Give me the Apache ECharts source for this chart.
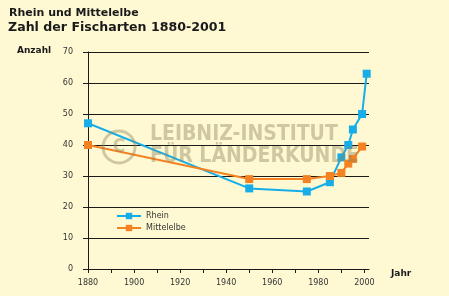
<!DOCTYPE html>
<html><head><meta charset="utf-8">
<script src="https://cdn.jsdelivr.net/npm/echarts@6/dist/echarts.min.js"></script>
<style>html,body{margin:0;padding:0;background:#FEF9D3;}#c{width:449px;height:296px;}</style>
</head><body><div id="c"></div>
<script>
const rheinData = [[1880,47],[1950,26],[1975,25],[1985,28],[1990,36],[1993,40],[1995,45],[1999,50],[2001,63]];
const elbeData = [[1880,40],[1950,29],[1975,29],[1985,30],[1990,31],[1993,34],[1995,35.5],[1999,39.5]];
const xTicks = [1880,1890,1900,1910,1920,1930,1940,1950,1960,1970,1980,1990,2000];
const xLabels = [1880,1900,1920,1940,1960,1980,2000];
const seriesNames = ['Rhein','Mittelelbe'];
const colors = ['#16ADE8','#F58220'];
const ch = echarts.init(document.getElementById('c'));
const font = 'DejaVu Sans';
const wm = 'rgba(140,130,90,0.42)';
const wmFont = 'bold 21px "Liberation Sans Narrow","DejaVu Sans Condensed",sans-serif';
ch.setOption({
  backgroundColor:'#FEF9D3',
  animation:false,
  textStyle:{fontFamily:font},
  grid:{left:88,right:80,top:52,bottom:27,containLabel:false},
  xAxis:{type:'value',min:1880,max:2002,
    axisLine:{lineStyle:{color:'#1a1a1a',width:1}},
    axisTick:{show:true,length:4,customValues:xTicks,lineStyle:{color:'#1a1a1a'}},
    axisLabel:{customValues:xLabels,fontSize:8,color:'#333',margin:10,fontFamily:font,formatter:v=>String(v)},
    splitLine:{show:false}},
  yAxis:{type:'value',min:0,max:70,interval:10,
    axisLine:{show:true,lineStyle:{color:'#1a1a1a',width:1}},
    axisTick:{show:true,length:5,lineStyle:{color:'#1a1a1a'}},
    axisLabel:{fontSize:8,color:'#333',margin:15,fontFamily:font},
    splitLine:{show:true,lineStyle:{color:'#1a1a1a',width:1}}},
  legend:{orient:'vertical',left:111,top:207,itemWidth:24,itemHeight:8,itemGap:4,
    textStyle:{fontSize:8,color:'#333',fontFamily:font},data:seriesNames},
  series:[
    {name:seriesNames[0],type:'line',data:rheinData,symbol:'rect',symbolSize:8,
      itemStyle:{color:colors[0]},lineStyle:{color:colors[0],width:2}},
    {name:seriesNames[1],type:'line',data:elbeData,symbol:'rect',symbolSize:8,
      itemStyle:{color:colors[1]},lineStyle:{color:colors[1],width:2}}
  ],
  graphic:[
    {type:'text',left:9,top:8,style:{text:'Rhein und Mittelelbe',font:'bold 11px "DejaVu Sans"',fill:'#1a1a1a'}},
    {type:'text',left:8,top:21,style:{text:'Zahl der Fischarten 1880-2001',font:'bold 12.6px "DejaVu Sans"',fill:'#1a1a1a'}},
    {type:'text',left:17,top:46,style:{text:'Anzahl',font:'bold 9px "DejaVu Sans"',fill:'#1a1a1a'}},
    {type:'text',left:391,top:269,style:{text:'Jahr',font:'bold 9px "DejaVu Sans"',fill:'#1a1a1a'}},
    {type:'circle',shape:{cx:119,cy:147,r:16},z:100,style:{fill:null,stroke:wm,lineWidth:3}},
    {type:'text',x:119,y:147,z:100,style:{text:'C',font:'bold 19px "Liberation Sans Narrow","DejaVu Sans Condensed",sans-serif',fill:wm,align:'center',verticalAlign:'middle'}},
    {type:'text',left:150,top:124,z:100,style:{text:'LEIBNIZ-INSTITUT',font:wmFont,fill:wm}},
    {type:'text',left:150,top:146,z:100,style:{text:'FÜR LÄNDERKUNDE',font:wmFont,fill:wm}}
  ]
});
</script></body></html>
